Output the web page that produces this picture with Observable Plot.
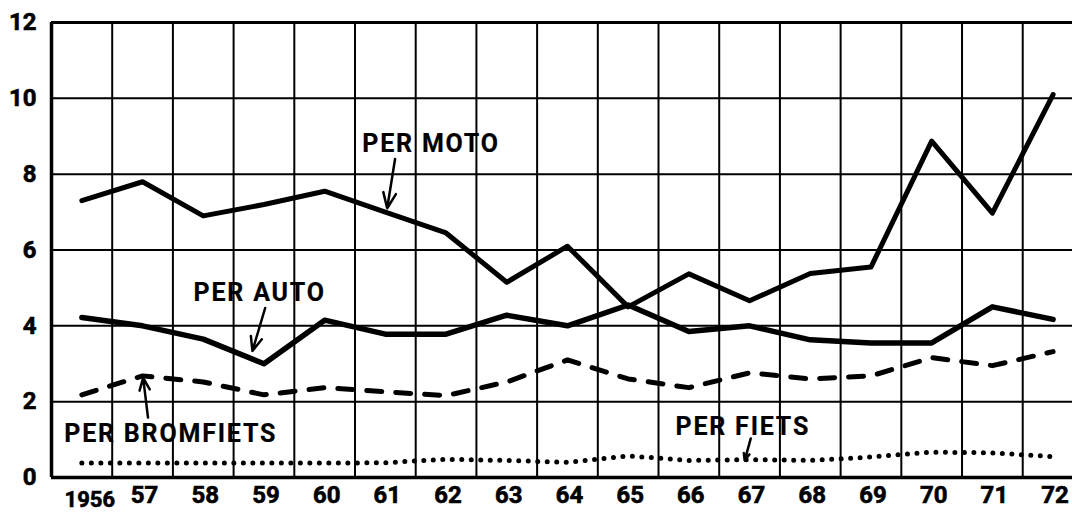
<!DOCTYPE html>
<html>
<head>
<meta charset="utf-8">
<script src="https://cdn.jsdelivr.net/npm/d3@7"></script>
<script src="https://cdn.jsdelivr.net/npm/@observablehq/plot@0.6"></script>
<style>
  html, body { margin: 0; padding: 0; background: white; }
  svg { display: block; }
  svg text { stroke: black; stroke-width: 0.6px; }
</style>
</head>
<body>
<div id="chart"></div>
<script>
// ---- data ----
const years = [1956,1957,1958,1959,1960,1961,1962,1963,1964,1965,1966,1967,1968,1969,1970,1971,1972];
const perMoto = [7.3,7.8,6.9,7.2,7.55,7.0,6.45,5.15,6.1,4.5,5.37,4.66,5.38,5.55,8.87,6.97,10.1];
const perAuto = [4.22,4.0,3.65,3.0,4.15,3.78,3.78,4.28,4.0,4.55,3.85,4.0,3.63,3.55,3.55,4.5,4.17];
const perBromfiets = [2.18,2.68,2.52,2.18,2.37,2.26,2.16,2.52,3.1,2.6,2.37,2.76,2.6,2.68,3.16,2.95,3.32];
const perFiets = [0.38,0.38,0.38,0.38,0.38,0.39,0.48,0.45,0.4,0.57,0.45,0.47,0.45,0.54,0.67,0.65,0.55];

const yTicks = [0,2,4,6,8,10,12];
const xTickYears = [1957,1958,1959,1960,1961,1962,1963,1964,1965,1966,1967,1968,1969,1970,1971,1972];
const firstYearLabel = [1956];

// annotations (data units)
const labelText = ["PER MOTO", "PER AUTO", "PER BROMFIETS", "PER FIETS"];
const labelX = [1960.62, 1957.84, 1955.71, 1965.78];
const labelY = [8.8, 4.86, 1.16, 1.34];
const arrowX1 = [1961.16, 1959.02, 1957.09, 1967.02];
const arrowY1 = [8.4, 4.47, 1.58, 1.03];
const arrowX2 = [1961.03, 1958.81, 1957.01, 1966.92];
const arrowY2 = [7.1, 3.34, 2.63, 0.45];

// ---- build tables ----
const rows = (vals) => years.map((yr, i) => ({year: yr, v: vals[i]}));
const labels = labelText.map((t, i) => ({t, x: labelX[i], y: labelY[i]}));
const arrows = arrowX1.map((x1, i) => ({x1, y1: arrowY1[i], x2: arrowX2[i], y2: arrowY2[i]}));
const cellEdges = years.map(y => y - 0.5).concat([years[years.length - 1] + 0.5]);
const innerH = yTicks.filter(t => t > 0 && t < 12);

const font = "Roboto, 'DejaVu Sans', sans-serif";

const chart = Plot.plot({
  width: 1072,
  height: 513,
  marginLeft: 51,
  marginRight: 0,
  marginTop: 22,
  marginBottom: 36,
  style: {fontFamily: font, background: "white", color: "black", overflow: "visible"},
  x: {domain: [1955.5, 1972.32]},
  y: {domain: [0, 12]},
  marks: [
    // grid
    Plot.ruleX(cellEdges.slice(1), {stroke: "black", strokeWidth: 2}),
    Plot.ruleY(innerH, {stroke: "black", strokeWidth: 2}),
    Plot.ruleY([12], {stroke: "black", strokeWidth: 3}),
    Plot.ruleX([1955.5], {stroke: "black", strokeWidth: 3.5}),
    Plot.ruleY([0], {stroke: "black", strokeWidth: 3.5}),
    // axes
    Plot.axisY({ticks: yTicks, tickSize: 0, tickPadding: 15, fontSize: 24, fontWeight: "bold", tickFormat: d => String(d), label: null}),
    Plot.axisX({ticks: xTickYears, tickSize: 0, tickPadding: 8, fontSize: 24, fontWeight: "bold", tickFormat: d => String(d).slice(2), label: null, dx: 2}),
    Plot.axisX({ticks: firstYearLabel, tickSize: 0, tickPadding: 14, fontSize: 22, fontWeight: "bold", tickFormat: d => String(d), label: null, dx: 8}),
    // series
    Plot.line(rows(perFiets), {x: "year", y: "v", stroke: "black", strokeWidth: 5, strokeDasharray: "0,9.5", strokeLinecap: "round"}),
    Plot.line(rows(perBromfiets), {x: "year", y: "v", stroke: "black", strokeWidth: 5, strokeDasharray: "15,14", strokeLinecap: "round", strokeLinejoin: "round"}),
    Plot.line(rows(perAuto), {x: "year", y: "v", stroke: "black", strokeWidth: 5.5, strokeLinejoin: "round"}),
    Plot.line(rows(perMoto), {x: "year", y: "v", stroke: "black", strokeWidth: 5, strokeLinejoin: "round"}),
    // annotations
    Plot.text(labels, {x: "x", y: "y", text: "t", textAnchor: "start", lineAnchor: "middle", fontSize: 25, fontWeight: "bold", fill: "black"}),
    Plot.arrow(arrows, {x1: "x1", y1: "y1", x2: "x2", y2: "y2", stroke: "black", strokeWidth: 2.5, headLength: 12, headAngle: 45})
  ]
});

d3.select(chart).selectAll('g[aria-label="text"] text').attr("letter-spacing", 1.8).style("stroke-width", "0.2px");
document.getElementById("chart").appendChild(chart);
</script>
</body>
</html>
